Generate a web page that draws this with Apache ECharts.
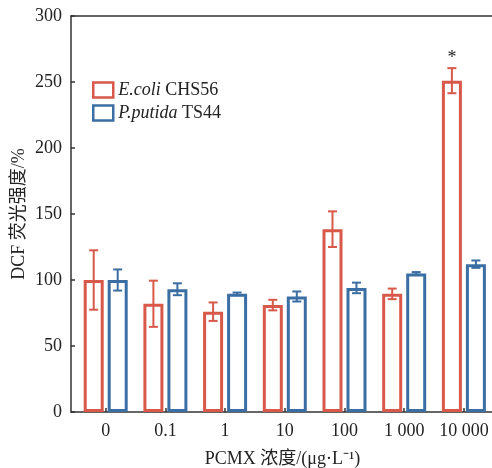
<!DOCTYPE html>
<html>
<head>
<meta charset="utf-8">
<script src="https://cdn.jsdelivr.net/npm/echarts@6/dist/echarts.min.js"></script>
<style>html,body{margin:0;padding:0;background:#fff}#c{width:492px;height:468px}</style>
</head>
<body>
<div id="c"></div>
<script>
const categories = ['0', '0.1', '1', '10', '100', '1 000', '10 000'];
const ecoliMean = [100, 82, 76, 81, 138.5, 89.5, 251];
const ecoliErr = [22.5, 17.5, 7, 4, 13.5, 4, 9.5];
const putidaMean = [100, 93, 89.5, 87.5, 94, 105, 112];
const putidaErr = [8, 4.5, 1, 3.8, 4, 1, 2.8];
const ecoliMarks = ['', '', '', '', '', '', '*'];
const yTicks = [0, 50, 100, 150, 200, 250, 300];

const RED = '#d8584a', BLUE = '#3b6fa3', INK = '#222';
const FONT = '"Liberation Serif", "Noto Sans CJK SC", serif';
const BAR_W = 20, GAP = 4, BORDER = 3;
const OFF = (BAR_W + GAP) / 2;

const idx = categories.map((_, i) => i);

function errData(mean, err, marks) {
  return mean.map((m, i) => [i, m, err[i], marks ? marks[i] : '']);
}
function errRender(offset, color) {
  return function (params, api) {
    const x = api.value(0), m = api.value(1), e = api.value(2);
    const mark = api.value(3);
    const hi = api.coord([x, m + e]);
    const lo = api.coord([x, m - e]);
    const cx = hi[0] + offset;
    const cap = 4.5;
    const st = { stroke: color, lineWidth: 2 };
    const children = [
      { type: 'line', shape: { x1: cx, y1: hi[1], x2: cx, y2: lo[1] }, style: st },
      { type: 'line', shape: { x1: cx - cap, y1: hi[1], x2: cx + cap, y2: hi[1] }, style: st },
      { type: 'line', shape: { x1: cx - cap, y1: lo[1], x2: cx + cap, y2: lo[1] }, style: st }
    ];
    if (mark && mark !== '') {
      children.push({ type: 'text', style: { text: mark, x: cx, y: hi[1] - 1, align: 'center', verticalAlign: 'bottom', fill: INK, font: '18px ' + FONT } });
    }
    return { type: 'group', children };
  };
}

const chart = echarts.init(document.getElementById('c'), null, { renderer: 'canvas' });
const left = 71, width = 423, firstCenter = 105.7, band = 59.7;
const xMin = -(firstCenter - left) / band;
const xMax = xMin + width / band;

chart.setOption({
  animation: false,
  grid: { left: left, top: 16, width: width, height: 396, containLabel: false, outerBoundsMode: 'none' },
  legend: {
    left: 87, top: 76, orient: 'vertical', itemWidth: 20, itemHeight: 15, itemGap: 5,
    icon: 'rect',
    itemStyle: { borderWidth: 2.5 },
    textStyle: {
      fontFamily: FONT, fontSize: 18, color: INK,
      rich: { i: { fontFamily: FONT, fontSize: 18, fontStyle: 'italic', color: INK } }
    },
    formatter: function (name) {
      const p = name.split(' ');
      return '{i|' + p[0] + '} ' + p.slice(1).join(' ');
    },
    data: ['E.coli CHS56', 'P.putida TS44']
  },
  xAxis: [{
    type: 'value', min: xMin, max: xMax,
    name: 'PCMX 浓度/(μg·L⁻¹)', nameLocation: 'middle', nameGap: 38, nameMoveOverlap: false,
    nameTextStyle: { fontFamily: FONT, fontSize: 18, color: INK },
    axisLine: { show: true, onZero: false, lineStyle: { color: '#333', width: 1.5 } },
    axisTick: { show: true, inside: true, length: 4, customValues: idx, lineStyle: { color: '#333', width: 1.5 } },
    axisLabel: { customValues: idx, formatter: v => categories[Math.round(v)], fontFamily: FONT, fontSize: 18, color: INK, margin: 10 },
    splitLine: { show: false }
  }, {
    type: 'value', position: 'top', min: xMin, max: xMax,
    axisLine: { show: true, onZero: false, lineStyle: { color: '#333', width: 1.5 } },
    axisTick: { show: false }, axisLabel: { show: false }, splitLine: { show: false }
  }],
  yAxis: {
    type: 'value', min: 0, max: 300, interval: 50,
    name: 'DCF 荧光强度/%', nameLocation: 'middle', nameGap: 43, nameMoveOverlap: false,
    nameTextStyle: { fontFamily: FONT, fontSize: 18, color: INK },
    axisLine: { show: true, onZero: false, lineStyle: { color: '#333', width: 1.5 } },
    axisTick: { show: true, inside: true, length: 4, lineStyle: { color: '#333', width: 1.5 } },
    axisLabel: { fontFamily: FONT, fontSize: 18, color: INK, margin: 9, formatter: v => yTicks.includes(v) ? String(v) : '' },
    splitLine: { show: false }
  },
  series: [
    {
      name: 'E.coli CHS56', type: 'bar', barWidth: BAR_W, barGap: (GAP / BAR_W * 100) + '%',
      itemStyle: { color: '#fff', borderColor: RED, borderWidth: BORDER },
      data: ecoliMean.map((v, i) => [i, v]), z: 2
    },
    {
      name: 'P.putida TS44', type: 'bar', barWidth: BAR_W, barGap: (GAP / BAR_W * 100) + '%',
      itemStyle: { color: '#fff', borderColor: BLUE, borderWidth: BORDER },
      data: putidaMean.map((v, i) => [i, v]), z: 2
    },
    {
      type: 'custom', renderItem: errRender(-OFF, RED), z: 3,
      encode: { x: 0, y: 1 }, data: errData(ecoliMean, ecoliErr, ecoliMarks)
    },
    {
      type: 'custom', renderItem: errRender(OFF, BLUE), z: 3,
      encode: { x: 0, y: 1 }, data: errData(putidaMean, putidaErr, null)
    }
  ]
});
</script>
</body>
</html>
